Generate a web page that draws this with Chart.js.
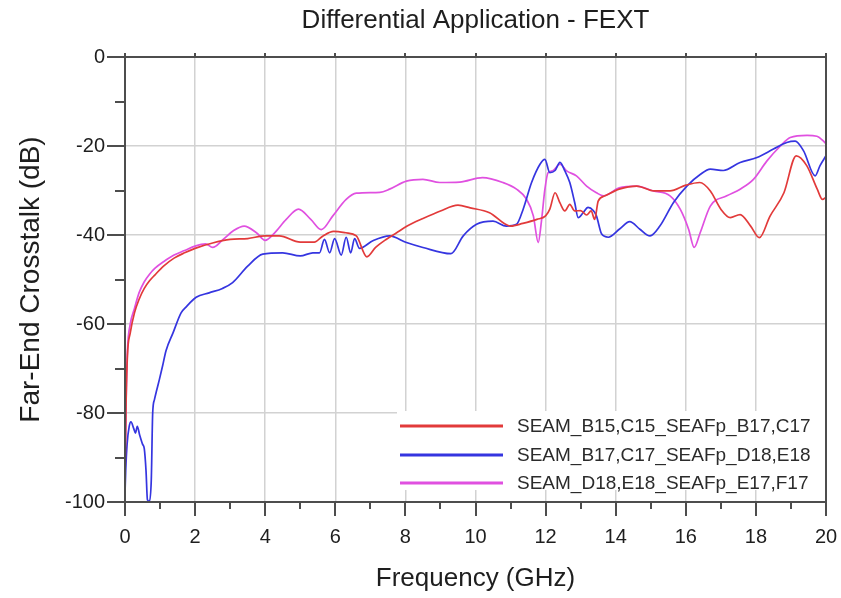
<!DOCTYPE html>
<html><head><meta charset="utf-8">
<script src="https://cdn.jsdelivr.net/npm/chart.js@4.4.1/dist/chart.umd.min.js"></script>
<style>html,body{margin:0;padding:0;background:#fff;}canvas{display:block;}</style>
</head><body>
<canvas id="c" width="841" height="598"></canvas>
<script>
// ---------- data ----------
const chartTitle = 'Differential Application - FEXT';
const xAxisTitle = 'Frequency (GHz)';
const yAxisTitle = 'Far-End Crosstalk (dB)';
const seriesNames = ['SEAM_B15,C15_SEAFp_B17,C17', 'SEAM_B17,C17_SEAFp_D18,E18', 'SEAM_D18,E18_SEAFp_E17,F17'];
const seriesColors = ['#e23a3a', '#3535e0', '#e050e0'];

const redFreq = [0,0.03,0.07,0.15,0.27,0.4,0.55,0.7,0.85,1.1,1.4,1.7,2.0,2.5,3.0,3.5,4.0,4.4,5.0,5.4,5.65,5.95,6.3,6.6,6.9,7.15,7.45,7.75,8.05,8.5,9.0,9.5,9.85,10.4,11.0,11.35,11.75,12.0,12.12,12.27,12.41,12.55,12.69,12.83,13.0,13.17,13.3,13.4,13.5,13.7,14.1,14.6,15.1,15.55,16.0,16.4,16.7,17.0,17.27,17.55,17.85,18.1,18.4,18.8,19.15,19.45,19.75,19.9,20];
const redDb = [-95,-78,-67,-62,-57.5,-54.5,-52,-50.3,-49,-47,-45.2,-44,-43,-41.8,-41,-40.8,-40.2,-40.2,-41.6,-41.6,-40.2,-39.2,-39.5,-40.2,-44.9,-42.8,-41,-39.5,-38,-36.3,-34.6,-33.3,-33.9,-35,-38,-37.4,-36.5,-35.7,-34.2,-30.5,-32.8,-34.6,-33.1,-34.6,-34.5,-35.5,-34.6,-36.5,-32.4,-31.2,-29.7,-29,-30.1,-30.1,-28.8,-28.2,-30.1,-34.2,-36.1,-35.4,-38,-40.6,-35.8,-30.5,-22.2,-24.4,-29.7,-32,-31.5];

const blueFreq = [0,0.02,0.06,0.12,0.17,0.25,0.3,0.35,0.42,0.5,0.55,0.6,0.64,0.7,0.75,0.79,0.84,0.9,0.98,1.07,1.17,1.37,1.6,1.74,2.03,2.4,2.78,3.07,3.5,3.93,4.5,5.0,5.36,5.55,5.69,5.84,5.98,6.17,6.31,6.44,6.55,6.69,7.07,7.55,8.03,8.5,9.3,9.65,10.03,10.5,10.88,11.17,11.36,11.6,11.84,11.98,12.12,12.27,12.41,12.55,12.69,12.83,12.93,13.07,13.21,13.36,13.45,13.6,13.79,14.12,14.4,14.69,14.98,15.26,15.65,16.03,16.41,16.7,17.07,17.55,18.03,18.5,18.88,19.12,19.36,19.69,19.83,20];
const blueDb = [-98,-93,-87,-83,-82,-83.5,-84.5,-83,-85,-87,-88,-93,-99.5,-99.8,-95,-80,-77,-75,-72.5,-69.5,-66,-62,-57.5,-56.2,-54,-53,-52,-50.7,-47,-44.3,-44,-44.7,-44,-44,-41,-44,-40.8,-44.5,-40.5,-44,-40.8,-43,-41.3,-40.2,-41.7,-42.8,-44.2,-40.2,-37.6,-36.9,-38,-37.6,-34.2,-28.2,-24.1,-23,-26,-25.5,-23.7,-25.6,-28.2,-32.7,-36.1,-35,-33.8,-34.5,-35.7,-39.8,-40.5,-38.6,-37,-38.7,-40.2,-38,-32.7,-29,-26.4,-25.2,-25.5,-23.7,-22.6,-20.7,-19.2,-18.9,-21.1,-26.7,-24.4,-22.2];

const pinkFreq = [0,0.03,0.07,0.15,0.27,0.4,0.55,0.7,0.85,1.1,1.4,1.7,2.0,2.3,2.5,2.8,3.1,3.4,3.75,4.0,4.27,4.6,4.95,5.3,5.6,5.93,6.31,6.6,7.27,7.55,8.03,8.5,8.98,9.55,10.2,10.78,11.17,11.46,11.65,11.79,11.88,11.98,12.07,12.2,12.41,12.6,12.88,13.17,13.45,13.65,14.1,14.6,15.07,15.55,15.84,16.08,16.24,16.41,16.7,17.17,17.55,17.93,18.31,18.7,18.98,19.46,19.74,19.93,20];
const pinkDb = [-95,-78,-66,-60,-56.5,-53,-50.5,-48.8,-47.5,-46,-44.5,-43.5,-42.5,-42,-42.8,-41,-39,-38,-39.5,-41.2,-39.5,-36.5,-34.2,-36.5,-38.8,-35.7,-32,-30.6,-30.4,-29.7,-27.9,-27.5,-28.2,-28.1,-27.1,-28.2,-29.7,-32,-35.7,-41.7,-37,-29.7,-26,-25.6,-24.1,-25.6,-26.7,-29,-30.5,-31.2,-29.4,-29,-30.1,-31.2,-34.2,-38.7,-42.8,-39.5,-33.5,-31.2,-29.7,-27.5,-23.4,-20,-18.1,-17.6,-17.8,-18.9,-19.5];

const xMin = 0, xMax = 20, xStep = 2;
const yMin = -100, yMax = 0, yStep = 20;

// ---------- chart ----------
const FONT = "'Liberation Sans', Arial, sans-serif";
const toPts = (fs, ds) => fs.map((f, i) => ({x: f, y: ds[i]}));
const seriesData = [toPts(redFreq, redDb), toPts(blueFreq, blueDb), toPts(pinkFreq, pinkDb)];

const framePlugin = {
  id: 'frame',
  beforeDatasetsDraw(chart) {
    const {ctx, chartArea: a} = chart;
    ctx.save();
    ctx.fillStyle = '#ffffff';
    ctx.fillRect(a.right - 429, a.bottom - 91, 429, 79);
    ctx.restore();
  },
  afterDatasetsDraw(chart) {
    const {ctx, chartArea: a, scales: {x, y}} = chart;
    ctx.save();
    ctx.strokeStyle = '#4d4d4d';
    ctx.lineWidth = 2;
    ctx.strokeRect(a.left, a.top, a.right - a.left, a.bottom - a.top);
    ctx.beginPath();
    for (let v = xMin; v <= xMax; v += 1) {
      const px = Math.round(x.getPixelForValue(v));
      const major = v % xStep === 0;
      ctx.moveTo(px, a.bottom);
      ctx.lineTo(px, a.bottom + (major ? 14 : 7));
      if (major) { ctx.moveTo(px, a.top); ctx.lineTo(px, a.top - 4); }
    }
    for (let v = yMin; v <= yMax; v += 10) {
      const py = Math.round(y.getPixelForValue(v));
      const major = v % yStep === 0;
      ctx.moveTo(a.left, py);
      ctx.lineTo(a.left - (major ? 18 : 10), py);
    }
    ctx.stroke();
    // legend
    const lx = a.right - 426, rows = [a.bottom - 76, a.bottom - 47, a.bottom - 19];
    ctx.font = '19px ' + FONT;
    ctx.textBaseline = 'middle';
    ctx.textAlign = 'left';
    seriesNames.forEach((name, i) => {
      ctx.strokeStyle = seriesColors[i];
      ctx.lineWidth = 3;
      ctx.beginPath();
      ctx.moveTo(lx, rows[i]);
      ctx.lineTo(lx + 103, rows[i]);
      ctx.stroke();
      ctx.fillStyle = '#2b2b2b';
      ctx.fillText(name, lx + 117, rows[i] + 1);
    });
    ctx.restore();
  }
};

new Chart(document.getElementById('c'), {
  type: 'line',
  data: {
    datasets: seriesNames.map((n, i) => ({
      label: n,
      data: seriesData[i],
      borderColor: seriesColors[i],
      backgroundColor: seriesColors[i],
      borderWidth: 1.7,
      pointRadius: 0,
      cubicInterpolationMode: 'monotone',
      fill: false
    }))
  },
  options: {
    responsive: false,
    animation: false,
    devicePixelRatio: 1,
    layout: {padding: 0},
    plugins: {
      legend: {display: false},
      tooltip: {enabled: false},
      title: {
        display: true,
        fullSize: false,
        text: chartTitle,
        color: '#1e1e1e',
        font: {family: FONT, size: 26, weight: 'normal'},
        padding: {top: 5, bottom: 20.8}
      }
    },
    scales: {
      x: {
        type: 'linear',
        min: xMin, max: xMax,
        afterFit(s) { s.height = 96; s.paddingRight = 15; s.paddingLeft = 0; },
        ticks: {stepSize: xStep, color: '#1e1e1e', font: {family: FONT, size: 20}, padding: 23, maxRotation: 0},
        grid: {color: '#d2d2d2', lineWidth: 1.5, drawTicks: false},
        border: {display: false},
        title: {display: true, text: xAxisTitle, color: '#1e1e1e', font: {family: FONT, size: 26}, padding: {top: 0, bottom: 4}}
      },
      y: {
        type: 'linear',
        min: yMin, max: yMax,
        afterFit(s) { s.width = 125; },
        ticks: {stepSize: yStep, color: '#1e1e1e', font: {family: FONT, size: 20}, padding: 20},
        grid: {color: '#d2d2d2', lineWidth: 1.5, drawTicks: false},
        border: {display: false},
        title: {display: true, text: yAxisTitle, color: '#1e1e1e', font: {family: FONT, size: 28}, padding: {top: 14, bottom: 0}}
      }
    }
  },
  plugins: [framePlugin]
});
</script>
</body></html>
